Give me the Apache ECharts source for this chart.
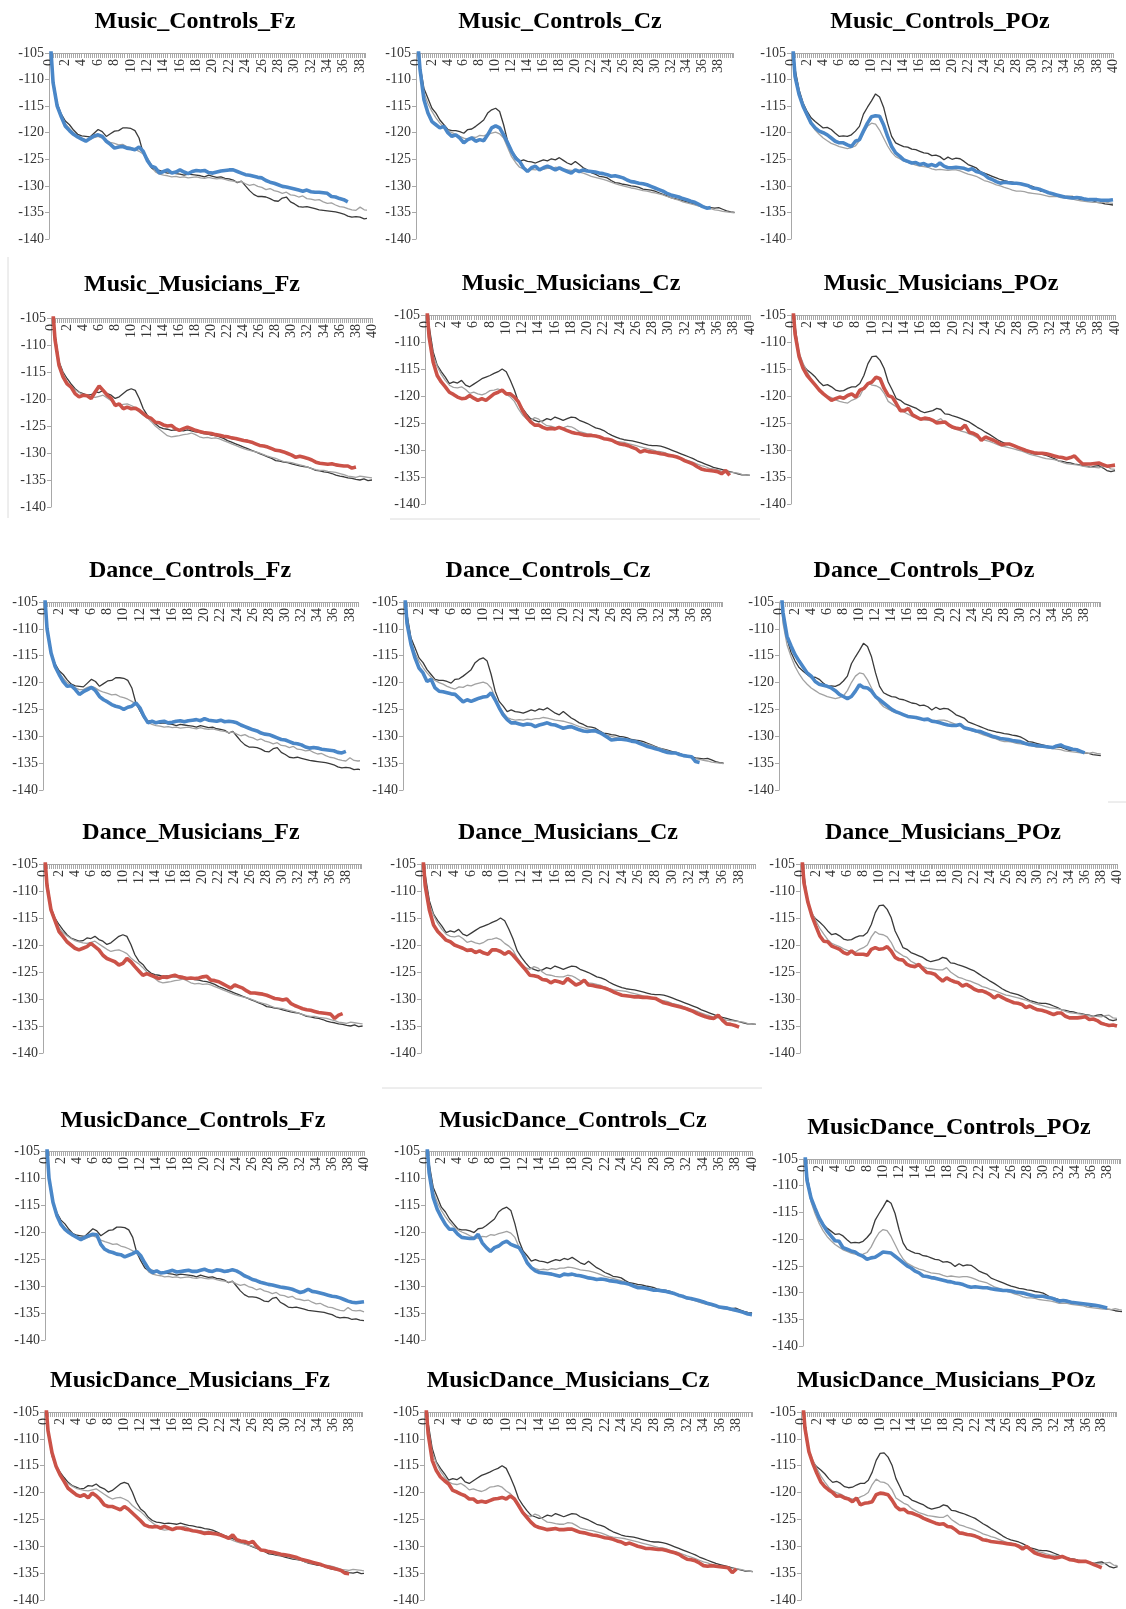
<!DOCTYPE html>
<html>
<head>
<meta charset="utf-8">
<title>EEG power spectra by condition, group and electrode</title>
<script src="https://cdn.jsdelivr.net/npm/echarts@6/dist/echarts.min.js"></script>
<style>
  html, body { margin: 0; padding: 0; background: #ffffff; }
  #chart { width: 1126px; height: 1609px; }
</style>
</head>
<body>
<div id="chart"></div>
<script>
// Frequency bins (Hz)
const FREQ = [
  0, 0.5, 1, 1.5, 2, 2.5, 3, 3.5, 4, 4.5,
  5, 5.5, 6, 6.5, 7, 7.5, 8, 8.5, 9, 9.5,
  10, 10.5, 11, 11.5, 12, 12.5, 13, 13.5, 14, 14.5,
  15, 15.5, 16, 16.5, 17, 17.5, 18, 18.5, 19, 19.5,
  20, 20.5, 21, 21.5, 22, 22.5, 23, 23.5, 24, 24.5,
  25, 25.5, 26, 26.5, 27, 27.5, 28, 28.5, 29, 29.5,
  30, 30.5, 31, 31.5, 32, 32.5, 33, 33.5, 34, 34.5,
  35, 35.5, 36, 36.5, 37, 37.5, 38, 38.5, 39, 39.5,
  40
];

// Axis ticks
const Y_MIN = -140;
const Y_MAX = -105;
const Y_STEP = 5;
const X_STEP = 2;

// ---- Baseline spectra (dark and light grey traces), Controls ----
const CTRL_FZ_K = [
  -100, -110, -114.5, -116.5, -117.8, -118.5, -119.5, -120.3, -120.6, -120.7,
  -120.8, -120.1, -119.4, -119.8, -120.7, -120.2, -119.7, -119.6, -119.1, -119.1,
  -119.2, -119.6, -121, -123.8, -125.3, -126.6, -127.2, -127.1, -127.4, -127.6,
  -127.5, -127.7, -127.8, -128, -127.8, -127.9, -128, -128.1, -128.3, -128,
  -128.2, -128.4, -128.3, -128.6, -128.7, -128.9, -129.4, -129.1, -130, -130.9,
  -131.6, -132, -132, -132.1, -132.4, -132.8, -132.9, -132.3, -132.1, -133,
  -133.4, -133.9, -134, -133.9, -134.1, -134.3, -134.5, -134.6, -134.7, -134.8,
  -134.9, -135.1, -135.3, -135.7, -135.9, -135.8, -135.9, -136.2, -136.1, -136.3,
  -136.4
];
const CTRL_FZ_G = [
  -100, -110.5, -114.5, -116.8, -118.3, -119.2, -120, -120.6, -121, -121.3,
  -121.3, -120.9, -120.7, -121, -121.5, -121.8, -122, -122.3, -122.2, -122.6,
  -122.8, -123.1, -123.5, -124, -124.7, -126, -127.4, -127.8, -128, -128.1,
  -128.3, -128.2, -128.4, -128.3, -128.5, -128.4, -128.3, -128.5, -128.6, -128.4,
  -128.6, -128.7, -128.6, -128.8, -129, -129.1, -129.3, -129.2, -129.6, -129.9,
  -129.7, -130.1, -130.3, -130.7, -130.5, -130.9, -131.1, -131.4, -131.2, -131.7,
  -131.8, -132.1, -131.9, -132.4, -132.5, -132.7, -132.6, -133, -133.3, -133.2,
  -133.6, -133.9, -134, -134.3, -134.5, -134.6, -134, -134.5, -134.6, -134.5,
  -134.8
];
const CTRL_CZ_K = [
  -98, -107.3, -111.7, -113.5, -115.4, -116.3, -117.6, -118.5, -119.4, -119.6,
  -119.6, -119.8, -120.1, -119.4, -119.3, -118.8, -118.2, -117.6, -116.3, -115.7,
  -115.4, -116, -118.5, -121.6, -123.5, -124.4, -125.4, -125.1, -125.4, -125.5,
  -125.7, -125.4, -125.1, -125.3, -124.9, -125.1, -124.7, -125.2, -125.7, -126,
  -125.4, -126, -126.6, -127, -127.5, -127.8, -128.2, -128.3, -128.5, -129,
  -129.4, -129.5, -129.7, -129.8, -130, -130.1, -130.3, -130.6, -130.7, -130.8,
  -131, -131.3, -131.6, -131.9, -132.2, -132.4, -132.6, -132.8, -133, -133.2,
  -133.5, -133.6, -133.8, -134, -134.1, -134.2, -134.1, -134.4, -134.7, -134.9,
  -135
];
const CTRL_CZ_G = [
  -98.5, -108, -112.5, -114.5, -116, -117.2, -118.2, -119, -119.6, -120,
  -120.3, -120.7, -121, -121.2, -120.8, -120.9, -120.5, -120.6, -120.3, -120.1,
  -119.9, -120.2, -121, -122.8, -124.5, -125.6, -126.5, -126.8, -127, -126.9,
  -127, -126.8, -126.9, -126.7, -126.7, -126.5, -126.6, -126.8, -127, -127.1,
  -127.2, -127.4, -127.6, -127.9, -128.2, -128.4, -128.6, -128.8, -129, -129.3,
  -129.6, -129.8, -130, -130.2, -130.4, -130.5, -130.7, -130.9, -131, -131.2,
  -131.3, -131.5, -131.7, -132, -132.2, -132.5, -132.7, -133, -133.2, -133.4,
  -133.6, -133.8, -134, -134.2, -134.3, -134.5, -134.6, -134.8, -134.9, -135,
  -135.1
];
const CTRL_POZ_K = [
  -99, -108, -111.9, -114.4, -116, -117.2, -117.9, -118.5, -119.1, -119,
  -119.4, -120.1, -120.7, -120.6, -120.7, -120.4, -119.7, -118.8, -116.5, -115.2,
  -114, -112.7, -113.3, -115.2, -118.2, -120.7, -121.9, -122.3, -122.6, -122.7,
  -123.1, -123.2, -123.5, -123.8, -123.9, -124.3, -124.2, -124.5, -125.1, -124.6,
  -125, -124.8, -124.9, -125.4, -126, -126.3, -126.6, -127.3, -127.6, -127.9,
  -128.2, -128.5, -128.8, -129, -129.2, -129.3, -129.5, -129.6, -129.8, -129.9,
  -130.1, -130.5, -131, -131.1, -131.3, -131.5, -131.7, -131.9, -132, -132,
  -132, -132.3, -132.6, -132.6, -132.5, -132.8, -133.1, -133.2, -133.4, -133.5,
  -133.6
];
const CTRL_POZ_G = [
  -99.5, -109, -113, -115.2, -117, -118.4, -119.5, -120.3, -121, -121.5,
  -122, -122.3, -122.6, -122.8, -123, -122.8, -122.5, -121.5, -120, -118.8,
  -118.2, -118.4, -119.5, -121, -122.5, -123.7, -124.5, -124.9, -125.3, -125.6,
  -125.8, -126.1, -126.3, -126.4, -126.5, -126.8, -127, -126.9, -127, -127.1,
  -127, -127, -127.2, -127.5, -127.8, -128, -128.2, -128.6, -129, -129.2,
  -129.5, -129.8, -130, -130.3, -130.5, -130.8, -131, -131, -131.1, -131.3,
  -131.4, -131.5, -131.6, -131.8, -132, -132, -132, -132.2, -132.3, -132.4,
  -132.5, -132.7, -132.8, -132.9, -133, -133.1, -133.1, -133.2, -133, -133.2,
  -133.3
];

// ---- Baseline spectra, Musicians ----
const MUS_FZ_K = [
  -99, -108, -113.1, -115, -116.2, -117.2, -118.1, -118.7, -119, -119.3,
  -119.2, -118.7, -118.8, -118.4, -119, -119.3, -119.9, -119.6, -119, -118.4,
  -118.1, -118.4, -119.9, -121.8, -123, -123.6, -124.6, -125.2, -125.5, -125.6,
  -125.8, -125.7, -125.8, -125.9, -125.7, -125.9, -126.1, -126.2, -126.4, -126.5,
  -126.7, -126.8, -127, -127.3, -127.7, -128, -128.3, -128.6, -128.9, -129.2,
  -129.5, -129.8, -130.1, -130.4, -130.7, -131, -131.4, -131.5, -131.7, -131.8,
  -132, -132.2, -132.4, -132.5, -132.6, -132.9, -133.2, -133.3, -133.5, -133.6,
  -133.8, -134.1, -134.3, -134.4, -134.6, -134.7, -134.9, -135, -134.8, -135.1,
  -135
];
const MUS_FZ_G = [
  -99.5, -108.5, -113.3, -115.3, -116.8, -117.7, -118.3, -118.8, -119.2, -119.4,
  -119.6, -119.7, -119.5, -119.3, -119.8, -120.3, -120.8, -121.2, -121, -120.9,
  -121.2, -121.6, -122.4, -123, -123.5, -124.2, -125, -125.6, -126.2, -126.8,
  -127, -126.9, -126.8, -126.6, -126.5, -126.3, -126.6, -127, -127.2, -127.1,
  -127.3, -127.2, -127.4, -127.7, -128, -128.3, -128.6, -128.9, -129.2, -129.4,
  -129.6, -129.8, -130, -130.3, -130.6, -130.8, -131, -131.3, -131.6, -131.7,
  -131.8, -132, -132.2, -132.4, -132.6, -132.9, -133.1, -133.2, -133.2, -133.4,
  -133.5, -133.6, -133.8, -134, -134.3, -134.4, -134.5, -134.3, -134.4, -134.5,
  -134.6
];
const MUS_CZ_K = [
  -98, -107, -111.8, -114.3, -115.5, -116.5, -117.7, -117.4, -117.6, -117.1,
  -118, -118.3, -117.8, -117.3, -116.8, -116.5, -116.2, -115.8, -115.5, -115,
  -115.5, -117.1, -118.9, -121.1, -122.3, -123.3, -124.2, -124.5, -124.8, -124.6,
  -124.2, -124.4, -123.9, -124.2, -124.5, -124.2, -123.9, -124, -124.5, -124.8,
  -125.1, -125.5, -125.9, -126.1, -126.4, -126.9, -127.3, -127.6, -127.9, -128.1,
  -128.2, -128.3, -128.5, -128.7, -128.9, -129.1, -129.2, -129.2, -129.3, -129.5,
  -129.8, -130.1, -130.4, -130.7, -131, -131.3, -131.6, -132, -132.3, -132.6,
  -132.9, -133.2, -133.4, -133.6, -133.8, -134, -134.2, -134.4, -134.6, -134.6,
  -134.7
];
const MUS_CZ_G = [
  -98.5, -108, -112.5, -114.5, -116, -117.1, -118, -118.4, -118.5, -118.3,
  -118.8, -119.5, -119.3, -119.6, -119.8, -119.5, -119, -118.9, -118.7, -119,
  -119.7, -120.2, -121, -122.4, -123.5, -124.2, -124.5, -124, -124.3, -125,
  -125.5, -125.6, -125.8, -125.9, -125.9, -125.6, -125.7, -126.1, -126.6, -126.8,
  -127, -127.1, -127.3, -127.5, -127.8, -128.1, -128.3, -128.4, -128.5, -128.6,
  -128.8, -129, -129.2, -129.4, -129.6, -129.8, -130, -130.2, -130.3, -130.5,
  -130.8, -131, -131.2, -131.5, -131.8, -132, -132.3, -132.6, -132.9, -133.1,
  -133.4, -133.5, -133.7, -133.9, -134, -134.1, -134.2, -134.3, -134.5, -134.6,
  -134.7
];
const MUS_POZ_K = [
  -98, -107, -112.4, -114.3, -115.2, -115.8, -116.5, -117.4, -118.1, -117.9,
  -118.3, -118.9, -119.1, -119, -118.6, -118.3, -118.3, -117.7, -116.2, -114,
  -112.7, -112.6, -113.4, -114.9, -117.4, -118.9, -120.5, -120.8, -121.4, -121.7,
  -122, -122.3, -122.8, -123.1, -122.9, -122.7, -122.3, -122.5, -123.3, -123.4,
  -123.7, -123.9, -124.2, -124.5, -124.8, -125.3, -125.8, -126.2, -126.7, -127.1,
  -127.6, -128.1, -128.5, -128.8, -129, -129.2, -129.5, -129.9, -130.3, -130.5,
  -130.7, -130.8, -130.8, -131, -131.3, -131.6, -132, -132.1, -132.3, -132.4,
  -132.6, -132.7, -132.9, -133, -133.2, -133, -132.9, -133.3, -133.8, -134,
  -133.8
];
const MUS_POZ_G = [
  -99, -108, -112, -114, -115.5, -116.9, -118, -119, -119.7, -120,
  -120.3, -120.7, -121, -121.2, -121.3, -120.8, -120.5, -120, -118.5, -117.5,
  -118, -118.1, -118.5, -119.5, -121, -121.5, -122, -122.3, -123, -123.4,
  -123.8, -124, -124.3, -124.4, -124.5, -124.6, -124.6, -124.2, -125, -125.5,
  -126, -126.2, -126.5, -126.7, -127, -127.3, -127.7, -127.9, -128.2, -128.4,
  -128.7, -129, -129.3, -129.4, -129.6, -129.8, -130, -130.2, -130.5, -130.8,
  -131, -131.2, -131.4, -131.6, -131.7, -131.8, -132, -132.3, -132.5, -132.6,
  -132.7, -132.8, -133, -133.1, -133.2, -133.2, -133.3, -133.1, -133, -133.5,
  -133.6
];

// ---- Condition spectra (coloured traces) ----
// Music
const MUSIC_CTRL_FZ = [
  -99, -110.6, -115, -117, -118.8, -119.6, -120.3, -120.8, -121.2, -121.6,
  -121.1, -120.6, -120.4, -120.7, -121.6, -122.2, -122.9, -122.7, -122.6, -122.9,
  -123, -123.2, -122.7, -123.5, -125.2, -126.3, -126.6, -127.6, -127.3, -127,
  -127.6, -127.4, -127, -127.4, -127.7, -127.3, -127.1, -127.2, -127.1, -127.5,
  -127.6, -127.4, -127.2, -127.1, -127, -127, -127.3, -127.6, -127.9, -128,
  -128.2, -128.4, -128.5, -129, -129.3, -129.5, -129.8, -130.1, -130.2, -130.4,
  -130.6, -130.8, -131, -130.8, -131.1, -131.2, -131.2, -131.3, -131.4, -132,
  -132.1, -132.4, -132.6, -133
];
const MUSIC_CTRL_CZ = [
  -99, -108, -113.8, -116.3, -117.9, -118.5, -119.1, -118.8, -120, -120.7,
  -120.4, -121, -121.9, -121.3, -121, -121.6, -121.3, -121.5, -120.4, -119.1,
  -118.7, -119.1, -120.4, -121.9, -123.5, -124.8, -125.4, -126.6, -127.3, -126.6,
  -126.3, -127, -126.6, -126.3, -126.6, -127, -126.6, -127, -127.3, -127.6,
  -127, -127.3, -127, -127.2, -127.3, -127.4, -127.6, -127.7, -127.9, -128.2,
  -128.1, -128.3, -128.5, -128.9, -129.2, -129.3, -129.5, -129.6, -129.8, -130.1,
  -130.4, -130.7, -131, -131.4, -131.7, -131.9, -132.1, -132.4, -132.6, -132.9,
  -133.1, -133.5, -133.9, -134.2, -134.1
];
const MUSIC_CTRL_POZ = [
  -99, -109.4, -112.8, -115, -116.6, -118.2, -119.1, -119.7, -120, -120.4,
  -121, -121.6, -121.9, -121.9, -122.3, -122.6, -121.6, -121.3, -119.7, -118.2,
  -117, -116.8, -116.9, -118.5, -120.7, -122.6, -123.8, -124.4, -125.1, -125.4,
  -125.7, -125.6, -126, -125.8, -126.2, -126, -126.3, -125.7, -126.3, -126.6,
  -126.6, -126.5, -126.6, -126.7, -127, -126.8, -127.3, -127.5, -127.9, -128.5,
  -128.8, -129.2, -129.5, -129.3, -129.4, -129.5, -129.5, -129.6, -129.8, -130,
  -130.4, -130.5, -130.7, -131, -131.3, -131.5, -131.7, -131.9, -132.1, -132.2,
  -132.3, -132.2, -132.3, -132.5, -132.6, -132.6, -132.6, -132.7, -132.7, -132.7,
  -132.6
];
const MUSIC_MUS_FZ = [
  -99, -109, -113.8, -115.9, -117.2, -117.8, -119, -119.6, -119.3, -119.4,
  -119.9, -118.7, -117.6, -118.4, -119.3, -119.9, -121.2, -120.9, -121.8, -121.5,
  -121.8, -121.7, -122.1, -122.7, -123.3, -123.6, -124.3, -124.4, -124.8, -125,
  -124.9, -125.5, -125.8, -125.5, -125.2, -125.5, -125.8, -126, -126.2, -126.3,
  -126.4, -126.6, -126.7, -126.9, -127, -127.2, -127.3, -127.5, -127.7, -127.8,
  -128, -128.3, -128.6, -128.7, -128.9, -129.2, -129.5, -129.6, -129.8, -130.1,
  -130.4, -130.8, -130.6, -130.8, -131, -131.3, -131.7, -131.9, -132, -132.1,
  -132, -132.2, -132.3, -132.4, -132.4, -132.8, -132.6
];
const MUSIC_MUS_CZ = [
  -99, -109, -113.7, -116.2, -117.4, -118.3, -119.3, -119.7, -120.2, -120.5,
  -120.4, -119.9, -120.4, -120.8, -120.5, -120.8, -120.2, -119.6, -119.3, -118.9,
  -119.6, -119.6, -120.2, -121.1, -122.7, -123.9, -124.8, -125.4, -125.4, -125.8,
  -126.1, -126, -126.1, -125.8, -126.1, -126.4, -126.7, -126.9, -127, -127.2,
  -127.3, -127.3, -127.4, -127.6, -127.9, -128, -128.2, -128.6, -128.9, -129,
  -129.2, -129.5, -129.8, -130.4, -130.1, -130.3, -130.4, -130.5, -130.7, -130.8,
  -131, -131.1, -131.3, -131.6, -132, -132.3, -132.6, -133.1, -133.5, -133.7,
  -133.8, -133.9, -134, -134.4, -133.8, -134.7
];
const MUSIC_MUS_POZ = [
  -99, -108.5, -112.7, -114.9, -116.2, -117.1, -118, -118.9, -119.6, -120.2,
  -120.8, -120.5, -120.2, -120.4, -119.9, -119.6, -120.2, -118.9, -118.6, -117.7,
  -117.4, -116.5, -116.8, -118.6, -119.9, -120.2, -121.4, -122.7, -122.7, -122.3,
  -123.5, -123.9, -124.3, -124.1, -124.2, -124.5, -125, -124.9, -124.8, -125.4,
  -125.8, -126, -126.1, -125.4, -126.7, -126.9, -127.3, -128.2, -127.6, -127.9,
  -128.2, -128.6, -129, -128.9, -128.9, -129.2, -129.5, -129.8, -130.1, -130.3,
  -130.5, -130.6, -130.6, -130.7, -130.9, -131.1, -131.3, -131.4, -131.6, -131.4,
  -131.1, -131.9, -132.6, -132.6, -132.6, -132.5, -132.4, -132.7, -133, -132.9,
  -132.8
];
// Dance
const DANCE_CTRL_FZ = [
  -99, -110, -114.5, -117, -118.5, -119.8, -120.7, -120.6, -121.3, -122.2,
  -121.7, -121.3, -120.9, -121.5, -122.6, -123.2, -123.6, -124.1, -124.4, -124.6,
  -125, -124.6, -124.4, -123.8, -124.7, -126.3, -127.5, -127.2, -127.5, -127.3,
  -127.2, -127.5, -127.4, -127.2, -127.1, -127.3, -127.1, -127, -126.9, -127.1,
  -126.7, -127, -127.1, -127.2, -127, -127.3, -127.2, -127.3, -127.5, -127.9,
  -128.2, -128.5, -128.8, -129, -129.4, -129.6, -129.7, -130, -130.3, -130.6,
  -130.7, -131, -131.3, -131.4, -131.6, -132, -132.2, -132.1, -132.2, -132.4,
  -132.5, -132.6, -132.7, -133, -133.1, -132.8
];
const DANCE_CTRL_CZ = [
  -99, -109, -112.9, -115.4, -117.3, -118.2, -119.8, -119.4, -121, -121.6,
  -121.7, -121.9, -122.1, -122.2, -122.9, -123.6, -123.2, -123.5, -123.2, -122.9,
  -122.7, -122.6, -121.9, -123.2, -124.7, -126, -126.9, -127.5, -127.5, -127.7,
  -127.9, -127.7, -127.8, -128.2, -127.9, -127.7, -127.5, -127.8, -127.9, -128.2,
  -128.5, -128.3, -128.2, -128.5, -128.8, -129, -129.1, -129, -129, -129.3,
  -129.7, -130.2, -130.7, -130.6, -130.5, -130.6, -130.7, -130.9, -131, -131.3,
  -131.6, -131.9, -132.1, -132.3, -132.5, -132.8, -133, -133.1, -133.1, -133.4,
  -133.6, -133.7, -133.8, -134.7, -134.9
];
const DANCE_CTRL_POZ = [
  -98, -107, -111.4, -113.2, -114.8, -116, -117.1, -118.2, -118.8, -119.8,
  -120.3, -120.5, -120.7, -121, -121.5, -122.2, -122.6, -123, -122.6, -121.6,
  -120.4, -120.9, -121, -121.6, -122.6, -123.2, -123.8, -124.4, -125, -125.4,
  -125.7, -126, -126.3, -126.4, -126.5, -126.7, -126.9, -126.8, -127.2, -127.3,
  -127.5, -127.7, -127.9, -128, -128, -127.8, -128.4, -128.6, -128.8, -129,
  -129.1, -129.4, -129.7, -130, -130.2, -130.4, -130.5, -130.6, -130.8, -130.9,
  -131, -131.3, -131.5, -131.6, -131.7, -131.8, -131.9, -132, -132.1, -131.8,
  -131.6, -132, -132.2, -132.4, -132.5, -132.8, -133.1
];
const DANCE_MUS_FZ = [
  -99, -109, -113.5, -115.5, -117.5, -118.4, -119.4, -120, -120.6, -120.9,
  -120.6, -120.3, -119.7, -120.3, -120.9, -121.9, -122.5, -122.8, -123.1, -123.7,
  -123.4, -122.5, -123.1, -124, -124.8, -125.6, -125.3, -125.6, -125.9, -126.2,
  -125.9, -126, -125.8, -125.6, -125.9, -126, -126.2, -126.1, -126.2, -126.1,
  -125.9, -125.8, -126.5, -126.6, -126.8, -127.2, -127.6, -128, -127.4, -127.7,
  -128, -128.5, -128.9, -128.9, -129, -129.1, -129.3, -129.6, -129.9, -130,
  -130.2, -130, -130.8, -131.2, -131.5, -131.8, -132, -132.1, -132.3, -132.5,
  -132.6, -132.7, -132.8, -133.6, -133, -132.7
];
const DANCE_MUS_CZ = [
  -99, -109, -113.5, -116.3, -117.5, -118.3, -119.1, -119.4, -120, -120.3,
  -120.6, -121, -120.9, -121.4, -121.1, -121.5, -121.7, -120.9, -120.9, -121.2,
  -121.7, -121.2, -121.9, -122.8, -123.7, -124.6, -125.6, -125.7, -125.9, -126.4,
  -126.5, -127, -126.6, -126.8, -127.1, -126.2, -126.8, -127.4, -127.1, -126.5,
  -127.4, -127.5, -127.7, -127.8, -128, -128.3, -128.7, -129, -129.3, -129.4,
  -129.5, -129.6, -129.6, -129.7, -129.7, -129.8, -129.9, -130.3, -130.7, -130.9,
  -131.1, -131.3, -131.5, -131.7, -132, -132.3, -132.7, -133, -133.3, -133.5,
  -133.6, -133, -133.9, -134.6, -134.7, -134.9, -135.2
];
const DANCE_MUS_POZ = [
  -99, -108.5, -112.1, -114.6, -116.5, -118.3, -119.3, -119.4, -120.2, -120.5,
  -120.8, -121.4, -121.7, -121.1, -121.7, -121.7, -121.7, -121.9, -120.8, -120.5,
  -120.8, -120.7, -120.3, -121.1, -122.3, -122.7, -122.8, -123.6, -123.9, -124,
  -123.6, -124.4, -125.1, -125.2, -125.4, -126.1, -126.7, -126.1, -126.5, -126.8,
  -127, -127.6, -127.3, -127.7, -128.2, -128.5, -128.5, -128.8, -129.2, -129.8,
  -129.3, -129.7, -130.1, -130.4, -130.7, -130.8, -131, -131.6, -131.3, -131.7,
  -132, -132.1, -132.3, -132.6, -132.9, -132.6, -132.6, -133.2, -133.5, -133.5,
  -133.5, -133.4, -133.3, -133.8, -133.7, -134, -134.5, -134.7, -134.9, -134.8,
  -135
];
// Music + Dance
const MD_CTRL_FZ = [
  -99, -110, -114.5, -117, -118.6, -119.5, -120.1, -120.6, -121, -121.4,
  -121, -120.7, -120.4, -120.5, -122.3, -123.2, -123.6, -123.8, -124.1, -124.2,
  -124.6, -124.3, -124, -123.6, -124.4, -125.7, -126.9, -127.5, -127.2, -127.6,
  -127.5, -127.3, -127.1, -127.4, -127.3, -127.2, -127.1, -127.3, -127.3, -127.1,
  -126.9, -127.2, -127.3, -127, -127.1, -127.3, -127.2, -127, -127.2, -127.6,
  -128.1, -128.4, -128.8, -129, -129.3, -129.5, -129.7, -129.8, -130, -130.2,
  -130.3, -130.4, -130.6, -130.9, -131.2, -131, -130.6, -131, -131.1, -131.3,
  -131.5, -131.7, -131.9, -132, -132.2, -132.5, -132.8, -133, -133.1, -133,
  -132.9
];
const MD_CTRL_CZ = [
  -99, -109, -113.6, -115.8, -117.3, -118.6, -119.5, -119.5, -120.4, -121,
  -121.1, -121.2, -121.2, -120.4, -122, -122.9, -123.6, -122.9, -122.6, -122,
  -121.7, -122.3, -122.6, -122.9, -124.1, -125.7, -126.6, -127.2, -127.5, -127.6,
  -127.7, -127.8, -128, -128.2, -127.8, -127.9, -127.8, -128, -128.1, -128.3,
  -128.5, -128.6, -128.8, -128.7, -128.8, -129, -129.1, -129.2, -129.4, -129.5,
  -129.7, -130, -130.3, -130.3, -130.4, -130.6, -130.8, -130.8, -130.9, -131,
  -131.2, -131.4, -131.7, -131.9, -132.2, -132.3, -132.5, -132.7, -132.9, -133.2,
  -133.4, -133.6, -133.9, -134, -134.1, -134.3, -134.5, -134.7, -134.9, -135.2,
  -135.3
];
const MD_CTRL_POZ = [
  -99, -109, -112.3, -114.2, -116, -117.3, -118.5, -119.4, -120.3, -120.4,
  -121.6, -121.9, -122.2, -122.4, -122.9, -123.2, -123.8, -123.5, -123.4, -122.9,
  -122.4, -122.5, -122.6, -123.2, -123.8, -124.4, -125, -125.4, -126, -126.3,
  -126.9, -127, -127.2, -127.3, -127.5, -127.7, -127.9, -128, -128.2, -128.3,
  -128.5, -128.8, -129, -128.9, -129, -129.1, -129.1, -129.3, -129.4, -129.5,
  -129.6, -129.6, -129.7, -129.9, -130, -130.1, -130.3, -130.5, -130.7, -130.7,
  -130.7, -130.9, -131, -131.3, -131.6, -131.5, -131.6, -131.8, -131.9, -132,
  -132.1, -132.2, -132.3, -132.4, -132.5, -132.7, -132.9
];
const MD_MUS_FZ = [
  -99, -108.5, -112.6, -115.1, -116.7, -117.9, -119.2, -119.8, -120.4, -120.7,
  -120.4, -121, -120.1, -120.6, -121.3, -122.3, -122.6, -122.6, -122.9, -123.2,
  -122.6, -123.1, -123.8, -124.5, -125.2, -126, -126.3, -126.4, -126.3, -126.6,
  -126.3, -126.6, -126.9, -126.6, -126.6, -126.8, -126.9, -127.1, -127.2, -127.4,
  -127.6, -127.5, -127.6, -127.7, -127.9, -128.2, -128.5, -127.9, -128.8, -129,
  -129.1, -129.4, -129.1, -130, -130.7, -130.8, -131, -131.1, -131.3, -131.5,
  -131.6, -131.7, -131.9, -132.1, -132.4, -132.6, -132.8, -133, -133.2, -133.4,
  -133.7, -133.9, -134.1, -134.3, -134.5, -135, -135.1
];
const MD_MUS_CZ = [
  -99, -109, -114, -115.9, -117.1, -117.8, -118.4, -119.6, -119.9, -120.3,
  -120.6, -121.2, -121.2, -121.8, -121.6, -121.8, -121.5, -121.2, -121.1, -120.9,
  -121.2, -120.6, -121.2, -122.4, -123.7, -124.6, -125.5, -126.2, -126.5, -126.7,
  -126.9, -126.8, -126.7, -126.9, -126.9, -126.8, -126.8, -127.1, -127.4, -127.5,
  -127.7, -127.9, -128, -128.2, -128.4, -128.5, -128.7, -129, -129.2, -129.6,
  -129.4, -129.7, -130, -130.2, -130.4, -130.4, -130.5, -130.6, -130.6, -130.8,
  -131, -131.2, -131.5, -132, -132.4, -132.5, -132.7, -133.1, -133.6, -133.7,
  -133.6, -133.7, -133.8, -133.9, -134, -134.9, -134.2
];
const MD_MUS_POZ = [
  -99, -108, -112.4, -114.6, -116.4, -118, -118.9, -119.5, -120, -120.7,
  -120.6, -121, -121.2, -121.7, -121, -122.3, -122, -121.9, -121.7, -120.4,
  -120.1, -120.2, -120.4, -121.4, -122.6, -123.2, -123.1, -123.7, -123.8, -124.1,
  -124.4, -124.8, -125.1, -125.4, -125.7, -125.9, -125.8, -126.3, -126.4, -126.9,
  -127.5, -127.6, -127.8, -127.9, -128.1, -128.4, -128.8, -128.9, -129.1, -129.2,
  -129.3, -129.4, -129.5, -129.6, -129.7, -130, -130.5, -130, -130.6, -131.2,
  -131.5, -131.7, -131.9, -132, -132.2, -132.1, -131.9, -132.2, -132.5, -132.6,
  -132.8, -132.8, -132.8, -133.1, -133.4, -133.7, -134
];

// Trace colours
const BLACK = '#3a3a3a';
const GREY = '#a2a2a2';
const BLUE = '#4a87c8';
const RED = '#cb5248';

// Panels: title, dark baseline, light baseline, condition trace, colour
const PANELS = [
  ['Music_Controls_Fz', CTRL_FZ_K, CTRL_FZ_G, MUSIC_CTRL_FZ, BLUE],
  ['Music_Controls_Cz', CTRL_CZ_K, CTRL_CZ_G, MUSIC_CTRL_CZ, BLUE],
  ['Music_Controls_POz', CTRL_POZ_K, CTRL_POZ_G, MUSIC_CTRL_POZ, BLUE],
  ['Music_Musicians_Fz', MUS_FZ_K, MUS_FZ_G, MUSIC_MUS_FZ, RED],
  ['Music_Musicians_Cz', MUS_CZ_K, MUS_CZ_G, MUSIC_MUS_CZ, RED],
  ['Music_Musicians_POz', MUS_POZ_K, MUS_POZ_G, MUSIC_MUS_POZ, RED],
  ['Dance_Controls_Fz', CTRL_FZ_K, CTRL_FZ_G, DANCE_CTRL_FZ, BLUE],
  ['Dance_Controls_Cz', CTRL_CZ_K, CTRL_CZ_G, DANCE_CTRL_CZ, BLUE],
  ['Dance_Controls_POz', CTRL_POZ_K, CTRL_POZ_G, DANCE_CTRL_POZ, BLUE],
  ['Dance_Musicians_Fz', MUS_FZ_K, MUS_FZ_G, DANCE_MUS_FZ, RED],
  ['Dance_Musicians_Cz', MUS_CZ_K, MUS_CZ_G, DANCE_MUS_CZ, RED],
  ['Dance_Musicians_POz', MUS_POZ_K, MUS_POZ_G, DANCE_MUS_POZ, RED],
  ['MusicDance_Controls_Fz', CTRL_FZ_K, CTRL_FZ_G, MD_CTRL_FZ, BLUE],
  ['MusicDance_Controls_Cz', CTRL_CZ_K, CTRL_CZ_G, MD_CTRL_CZ, BLUE],
  ['MusicDance_Controls_POz', CTRL_POZ_K, CTRL_POZ_G, MD_CTRL_POZ, BLUE],
  ['MusicDance_Musicians_Fz', MUS_FZ_K, MUS_FZ_G, MD_MUS_FZ, RED],
  ['MusicDance_Musicians_Cz', MUS_CZ_K, MUS_CZ_G, MD_MUS_CZ, RED],
  ['MusicDance_Musicians_POz', MUS_POZ_K, MUS_POZ_G, MD_MUS_POZ, RED]
];

// Panel placement: plot left, right, top, bottom, title centre x, y, and x-axis end (Hz)
const LAYOUT = [
  [49, 365, 53, 239, 195, 22, 38.6],
  [416, 733, 53, 239, 560, 22, 39.8],
  [791, 1113, 53, 239, 940, 22, 40],
  [51, 372, 318, 507, 192, 285, 40],
  [425, 750, 315, 504, 571, 284, 40],
  [791, 1115, 315, 504, 941, 284, 40],
  [43, 358, 602, 790, 190, 571, 39],
  [403, 722, 602, 790, 548, 571, 39.8],
  [779, 1100, 602, 790, 924, 571, 39.9],
  [43, 361, 864, 1053, 191, 833, 39.8],
  [421, 755, 864, 1053, 568, 833, 39.9],
  [800, 1117, 864, 1053, 943, 833, 40],
  [45, 364, 1151, 1340, 193, 1121, 40],
  [425, 752, 1151, 1340, 573, 1121, 40],
  [803, 1120, 1159, 1346, 949, 1128, 39.6],
  [44, 362, 1412, 1600, 190, 1381, 39.6],
  [424, 752, 1412, 1600, 568, 1381, 39.9],
  [801, 1116, 1412, 1600, 946, 1381, 39.8]
];

const AXIS_GREY = '#a8a8a8';
const SERIF = '"Liberation Serif", "Times New Roman", serif';

function toPairs(values) {
  return values.map((v, i) => [FREQ[i], v]);
}

const titles = [], grids = [], xAxes = [], yAxes = [], series = [];

PANELS.forEach((p, i) => {
  const [name, dark, light, cond, colour] = p;
  const [l, r, t, b, tx, ty, xMax] = LAYOUT[i];

  titles.push({
    text: name,
    left: tx,
    top: ty,
    padding: 0,
    textAlign: 'center',
    textVerticalAlign: 'middle',
    textStyle: { fontFamily: SERIF, fontWeight: 'bold', fontSize: 24, color: '#000' }
  });

  grids.push({ left: l, top: t, width: r - l, height: b - t, containLabel: false });

  xAxes.push({
    gridIndex: i,
    type: 'value',
    position: 'top',
    min: 0,
    max: xMax,
    interval: X_STEP,
    axisLine: { show: true, onZero: false, lineStyle: { color: AXIS_GREY, width: 1 } },
    axisTick: { show: true, inside: true, length: 5, lineStyle: { color: AXIS_GREY } },
    minorTick: { show: true, splitNumber: 8, length: 5, lineStyle: { color: AXIS_GREY } },
    splitLine: { show: false },
    minorSplitLine: { show: false },
    axisLabel: {
      inside: true,
      rotate: -90,
      margin: 6,
      fontFamily: SERIF,
      fontSize: 14,
      color: '#333',
      showMinLabel: true,
      showMaxLabel: true,
      hideOverlap: false,
      formatter: v => (Math.abs(v % X_STEP) < 1e-6 ? String(Math.round(v)) : '')
    }
  });

  yAxes.push({
    gridIndex: i,
    type: 'value',
    min: Y_MIN,
    max: Y_MAX,
    interval: Y_STEP,
    axisLine: { show: true, lineStyle: { color: AXIS_GREY, width: 1 } },
    axisTick: { show: true, length: 4, lineStyle: { color: AXIS_GREY } },
    splitLine: { show: false },
    axisLabel: { margin: 5, fontFamily: SERIF, fontSize: 14, color: '#333' }
  });

  const base = { type: 'line', xAxisIndex: i, yAxisIndex: i, showSymbol: false, symbol: 'none',
                 clip: true, silent: true, animation: false };
  series.push(Object.assign({}, base, { data: toPairs(dark), z: 2,
    lineStyle: { color: BLACK, width: 1.3 } }));
  series.push(Object.assign({}, base, { data: toPairs(light), z: 3,
    lineStyle: { color: GREY, width: 1.3 } }));
  series.push(Object.assign({}, base, { data: toPairs(cond), z: 4,
    lineStyle: { color: colour, width: 3.6 } }));
});

// Faint frame edges left between the pasted panels
const frameLines = [
  [8, 257, 8, 518],
  [390, 519, 760, 519],
  [382, 1088, 762, 1088],
  [1108, 802, 1126, 802]
].map(([x1, y1, x2, y2]) => ({
  type: 'line', silent: true,
  shape: { x1, y1, x2, y2 },
  style: { stroke: '#dcdcdc', lineWidth: 1 }
}));

const chart = echarts.init(document.getElementById('chart'), null, { renderer: 'canvas', width: 1126, height: 1609 });
chart.setOption({
  animation: false,
  backgroundColor: '#ffffff',
  title: titles,
  grid: grids,
  xAxis: xAxes,
  yAxis: yAxes,
  series: series,
  graphic: frameLines
});
</script>
</body>
</html>
